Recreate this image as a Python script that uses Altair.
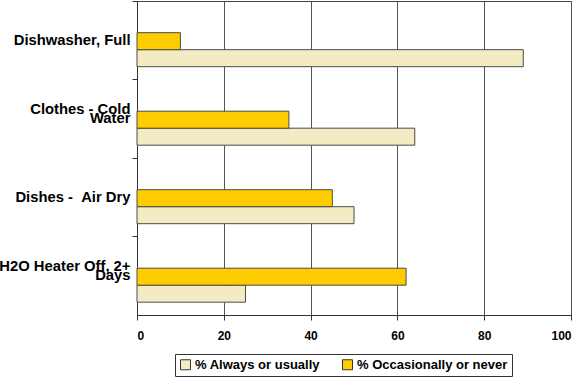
import altair as alt
import pandas as pd

categories = ["Dishwasher, Full", "Clothes - Cold|Water", "Dishes -\u00a0\u00a0Air Dry", "H2O Heater Off, 2+|Days"]
always_usually = [89, 64, 50, 25]
occasionally_never = [10, 35, 45, 62]
series_names = ["% Always or usually", "% Occasionally or never"]
x_ticks = [0, 20, 40, 60, 80, 100]

rows = []
for c, a, o in zip(categories, always_usually, occasionally_never):
    rows.append({"cat": c, "series": series_names[0], "value": a})
    rows.append({"cat": c, "series": series_names[1], "value": o})
df = pd.DataFrame(rows)

FONT = "Liberation Sans"

label_expr = ("indexof(datum.label, '|') >= 0 ? "
              "[split(datum.label, '|')[0], '\u00a0', split(datum.label, '|')[1]] : ['\u00a0', datum.label]")

chart = alt.Chart(df).mark_bar(stroke="#4a4a4a", strokeWidth=1).encode(
    y=alt.Y("cat:N", sort=categories, title=None,
            scale=alt.Scale(paddingInner=0.567, paddingOuter=0.2835, align=0.712),
            axis=alt.Axis(labelExpr=label_expr,
                          labelFont=FONT,
                          labelFontWeight="bold", labelFontSize=14.8, labelColor="#000",
                          labelLineHeight=9.5, tickSize=5, tickOffset=-48.7,
                          tickColor="#333", domainColor="#333", labelPadding=2,
                          labelAlign="right", labelBaseline="middle", labelOffset=29.75)),
    yOffset=alt.YOffset("series:N", sort=[series_names[1], series_names[0]],
                        scale=alt.Scale(paddingInner=0, paddingOuter=0)),
    x=alt.X("value:Q", title=None,
            scale=alt.Scale(domain=[0, 100], nice=False),
            axis=alt.Axis(values=x_ticks, grid=True, gridColor="#555", gridWidth=1,
                          labelFont=FONT, labelFontWeight="bold", labelFontSize=12,
                          labelColor="#000", tickSize=5, tickColor="#333",
                          domainColor="#333", labelPadding=10)),
    color=alt.Color("series:N",
                    scale=alt.Scale(domain=series_names, range=["#F5EBC2", "#FFCC00"]),
                    legend=alt.Legend(title=None, orient="none", legendX=38, legendY=353,
                                      direction="horizontal", symbolType="square",
                                      symbolSize=100, symbolStrokeColor="#333",
                                      symbolStrokeWidth=1, labelFont=FONT,
                                      labelFontWeight="bold", labelFontSize=13,
                                      labelColor="#000", strokeColor="#333",
                                      fillColor="white", padding=4, columnPadding=20,
                                      labelOffset=3)),
).properties(
    width=434, height=314,
    autosize=alt.AutoSizeParams(type="none"),
    padding={"left": 137, "top": 1, "right": 9, "bottom": 62},
).configure_view(stroke="#444", strokeWidth=1)

chart.save("out.html", embed_options={"renderer": "svg", "actions": False})
